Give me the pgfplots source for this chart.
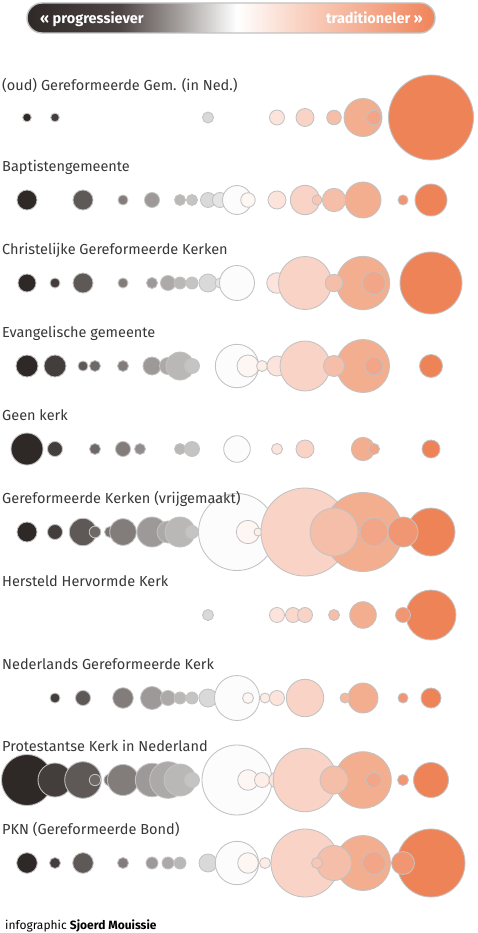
\documentclass[border=0pt]{standalone}
\usepackage{pgfplots}
\pgfplotsset{compat=1.18}
\usepackage{pgfplotstable}
\usepackage{fontspec}
\setmainfont{Fira Sans}
\definecolor{lab}{RGB}{55,55,55}
\definecolor{edge}{RGB}{194,194,194}
\definecolor{s0}{RGB}{46,40,38}
\definecolor{s1}{RGB}{78,70,68}
\definecolor{s2}{RGB}{165,160,158}
\definecolor{s3}{RGB}{255,255,255}
\definecolor{s4}{RGB}{249,210,194}
\definecolor{s5}{RGB}{240,132,90}
\pgfdeclarehorizontalshading{barshade}{100bp}{color(0bp)=(s0); color(25bp)=(s0); color(36.4bp)=(s1); color(43.7bp)=(s2); color(50.7bp)=(s3); color(58.5bp)=(s4); color(75bp)=(s5); color(100bp)=(s5)}

\pgfplotsset{bub/.style={scatter, only marks, mark=*, point meta=x,
  scatter/use mapped color={draw=edge, fill=mapped color},
  visualization depends on={\thisrow{r} \as \rad},
  scatter/@pre marker code/.append style={/tikz/mark size=\rad},
  mark options={line width=0.85pt}}}

% each row: x position, y position (px from top), radius (px)
\pgfplotstableread{
x y r
27 117.5 4.3
55 117.5 4.3
208 117.5 5.5
277 117.5 7.5
305 117.5 9
363 117.5 19
431 117.5 42.5
334 117.5 7.3
374 117.5 7.3
}\rowA
\pgfplotstableread{
x y r
27 200 10
83 200 10
123 200 5
152 200 7.5
180 200 5.5
192 200 5.5
208 200 7.5
220 200 7.5
237 200 14.5
248 200 7.3
277 200 9
305 200 14.7
363 200 18
431 200 16
334 200 11.7
403 200 5
317 200 5
}\rowB
\pgfplotstableread{
x y r
27 283 9
55 283 5
83 283 10
123 283 5
152 283 5.5
168 283 7.5
180 283 6
192 283 6
208 283 9
220 283 5
237 283 17.5
277 283 10.3
305 283 26.5
363 283 26.7
431 283 31
334 283 8.7
374 283 11.5
}\rowC
\pgfplotstableread{
x y r
27 366 11
55 366 11
83 366 5
95 366 5.5
123 366 5.5
152 366 9
168 366 8.5
180 366 14
192 366 7.5
237 366 21.7
248 366 11
262 366 5.5
277 366 10
305 366 25
363 366 26.5
431 366 11.5
334 366 10.5
374 366 9
}\rowD
\pgfplotstableread{
x y r
27 449 16
55 449 7.5
95 449 5.5
123 449 7.5
140 449 5.5
180 449 5.5
192 449 7.5
237 449 13.3
277 449 5.5
305 449 9
363 449 11.7
431 449 9
374 449 5.5
}\rowE
\pgfplotstableread{
x y r
27 532 10
55 532 7.5
83 532 13.7
95 532 5.8
110 532 5.5
123 532 13.3
152 532 15
168 532 11
180 532 15
192 532 6.5
237 532 38.5
248 532 11.7
258 532 4
305 532 44
363 532 39.5
431 532 24
334 532 24
374 532 14
403 532 15
}\rowF
\pgfplotstableread{
x y r
208 615 5.5
277 615 7.5
293 615 7.5
305 615 7.5
363 615 13.3
431 615 25
334 615 5.5
403 615 7.5
}\rowG
\pgfplotstableread{
x y r
55 698 5
83 698 7.5
123 698 10.3
152 698 11.5
168 698 7.5
180 698 6
192 698 6
208 698 9
237 698 22.5
248 698 5.5
265 698 5
277 698 7.5
305 698 18.7
363 698 15
431 698 10
345 698 5
403 698 5
}\rowH
\pgfplotstableread{
x y r
27 780 25.5
55 780 17
83 780 18.3
95 780 5.7
110 780 6
123 780 15.5
152 780 16.7
168 780 18.3
180 780 16
192 780 7.5
237 780 35
248 780 10.3
262 780 7.5
277 780 8
305 780 31.7
363 780 28.3
431 780 17.5
334 780 14
374 780 7.5
403 780 5.5
}\rowI
\pgfplotstableread{
x y r
27 863 10.3
55 863 5.5
83 863 10.3
123 863 5.5
152 863 6
168 863 6
180 863 6
208 863 9
237 863 21.7
248 863 10.3
265 863 5.5
305 863 34
363 863 27.5
431 863 34
334 863 17.5
374 863 11.5
403 863 11.5
317 863 5.5
}\rowJ

\begin{document}
\begin{tikzpicture}
\fill[white] (0,0) rectangle (477pt,933pt);
\begin{axis}[at={(0,0)}, anchor=south west, width=477pt, height=933pt,
  scale only axis, xmin=0, xmax=477, ymin=0, ymax=933, y dir=reverse,
  hide axis, clip=false,
  colormap={bubmap}{
    rgb255(0pt)=(46,40,38)
    rgb255(28pt)=(67,61,60)
    rgb255(56pt)=(94,88,86)
    rgb255(68pt)=(110,105,103)
    rgb255(96pt)=(130,125,123)
    rgb255(125pt)=(157,153,152)
    rgb255(141pt)=(172,169,168)
    rgb255(153pt)=(186,184,183)
    rgb255(165pt)=(197,196,195)
    rgb255(181pt)=(217,217,217)
    rgb255(193pt)=(229,229,229)
    rgb255(210pt)=(253,252,252)
    rgb255(221pt)=(254,246,243)
    rgb255(235pt)=(253,238,232)
    rgb255(250pt)=(252,228,220)
    rgb255(266pt)=(250,216,204)
    rgb255(278pt)=(248,211,198)
    rgb255(290pt)=(247,198,180)
    rgb255(307pt)=(245,190,168)
    rgb255(336pt)=(243,174,144)
    rgb255(347pt)=(242,165,135)
    rgb255(376pt)=(241,150,115)
    rgb255(404pt)=(239,131,88)},
  point meta min=27, point meta max=431]

\shade[shading=barshade, rounded corners=15pt] (axis cs:27,3) rectangle (axis cs:435,33);
\draw[edge, line width=1.4pt, rounded corners=15pt] (axis cs:27,3) rectangle (axis cs:435,33);

\addplot[bub] table {\rowA};
\addplot[bub] table {\rowB};
\addplot[bub] table {\rowC};
\addplot[bub] table {\rowD};
\addplot[bub] table {\rowE};
\addplot[bub] table {\rowF};
\addplot[bub] table {\rowG};
\addplot[bub] table {\rowH};
\addplot[bub] table {\rowI};
\addplot[bub] table {\rowJ};
\end{axis}
% texts on top of the bubbles (1pt = 1px; y measured from the bottom)
\node[anchor=base west, inner sep=0, text=white, font=\fontsize{14.5}{16}\selectfont\bfseries] at (40pt,909.5pt) {« progressiever};
\node[anchor=base east, inner sep=0, text=white, font=\fontsize{14.5}{16}\selectfont\bfseries] at (423pt,909.5pt) {traditioneler »};
\begin{scope}[every node/.style={anchor=base west, inner sep=0, text=lab, font=\fontsize{14.5}{16}\selectfont}]
\node at (2pt,842pt) {(oud) Gereformeerde Gem. (in Ned.)};
\node at (2pt,761.5pt) {Baptistengemeente};
\node at (2pt,678.5pt) {Christelijke Gereformeerde Kerken};
\node at (2pt,595.5pt) {Evangelische gemeente};
\node at (2pt,512.5pt) {Geen kerk};
\node at (2pt,429.5pt) {Gereformeerde Kerken (vrijgemaakt)};
\node at (2pt,346.5pt) {Hersteld Hervormde Kerk};
\node at (2pt,263.5pt) {Nederlands Gereformeerde Kerk};
\node at (2pt,181.5pt) {Protestantse Kerk in Nederland};
\node at (2pt,98.5pt) {PKN (Gereformeerde Bond)};
\end{scope}
\node[anchor=base west, inner sep=0, text=black, font=\fontsize{12}{14}\selectfont] at (5pt,4pt) {infographic \textbf{Sjoerd Mouissie}};
\end{tikzpicture}
\end{document}
